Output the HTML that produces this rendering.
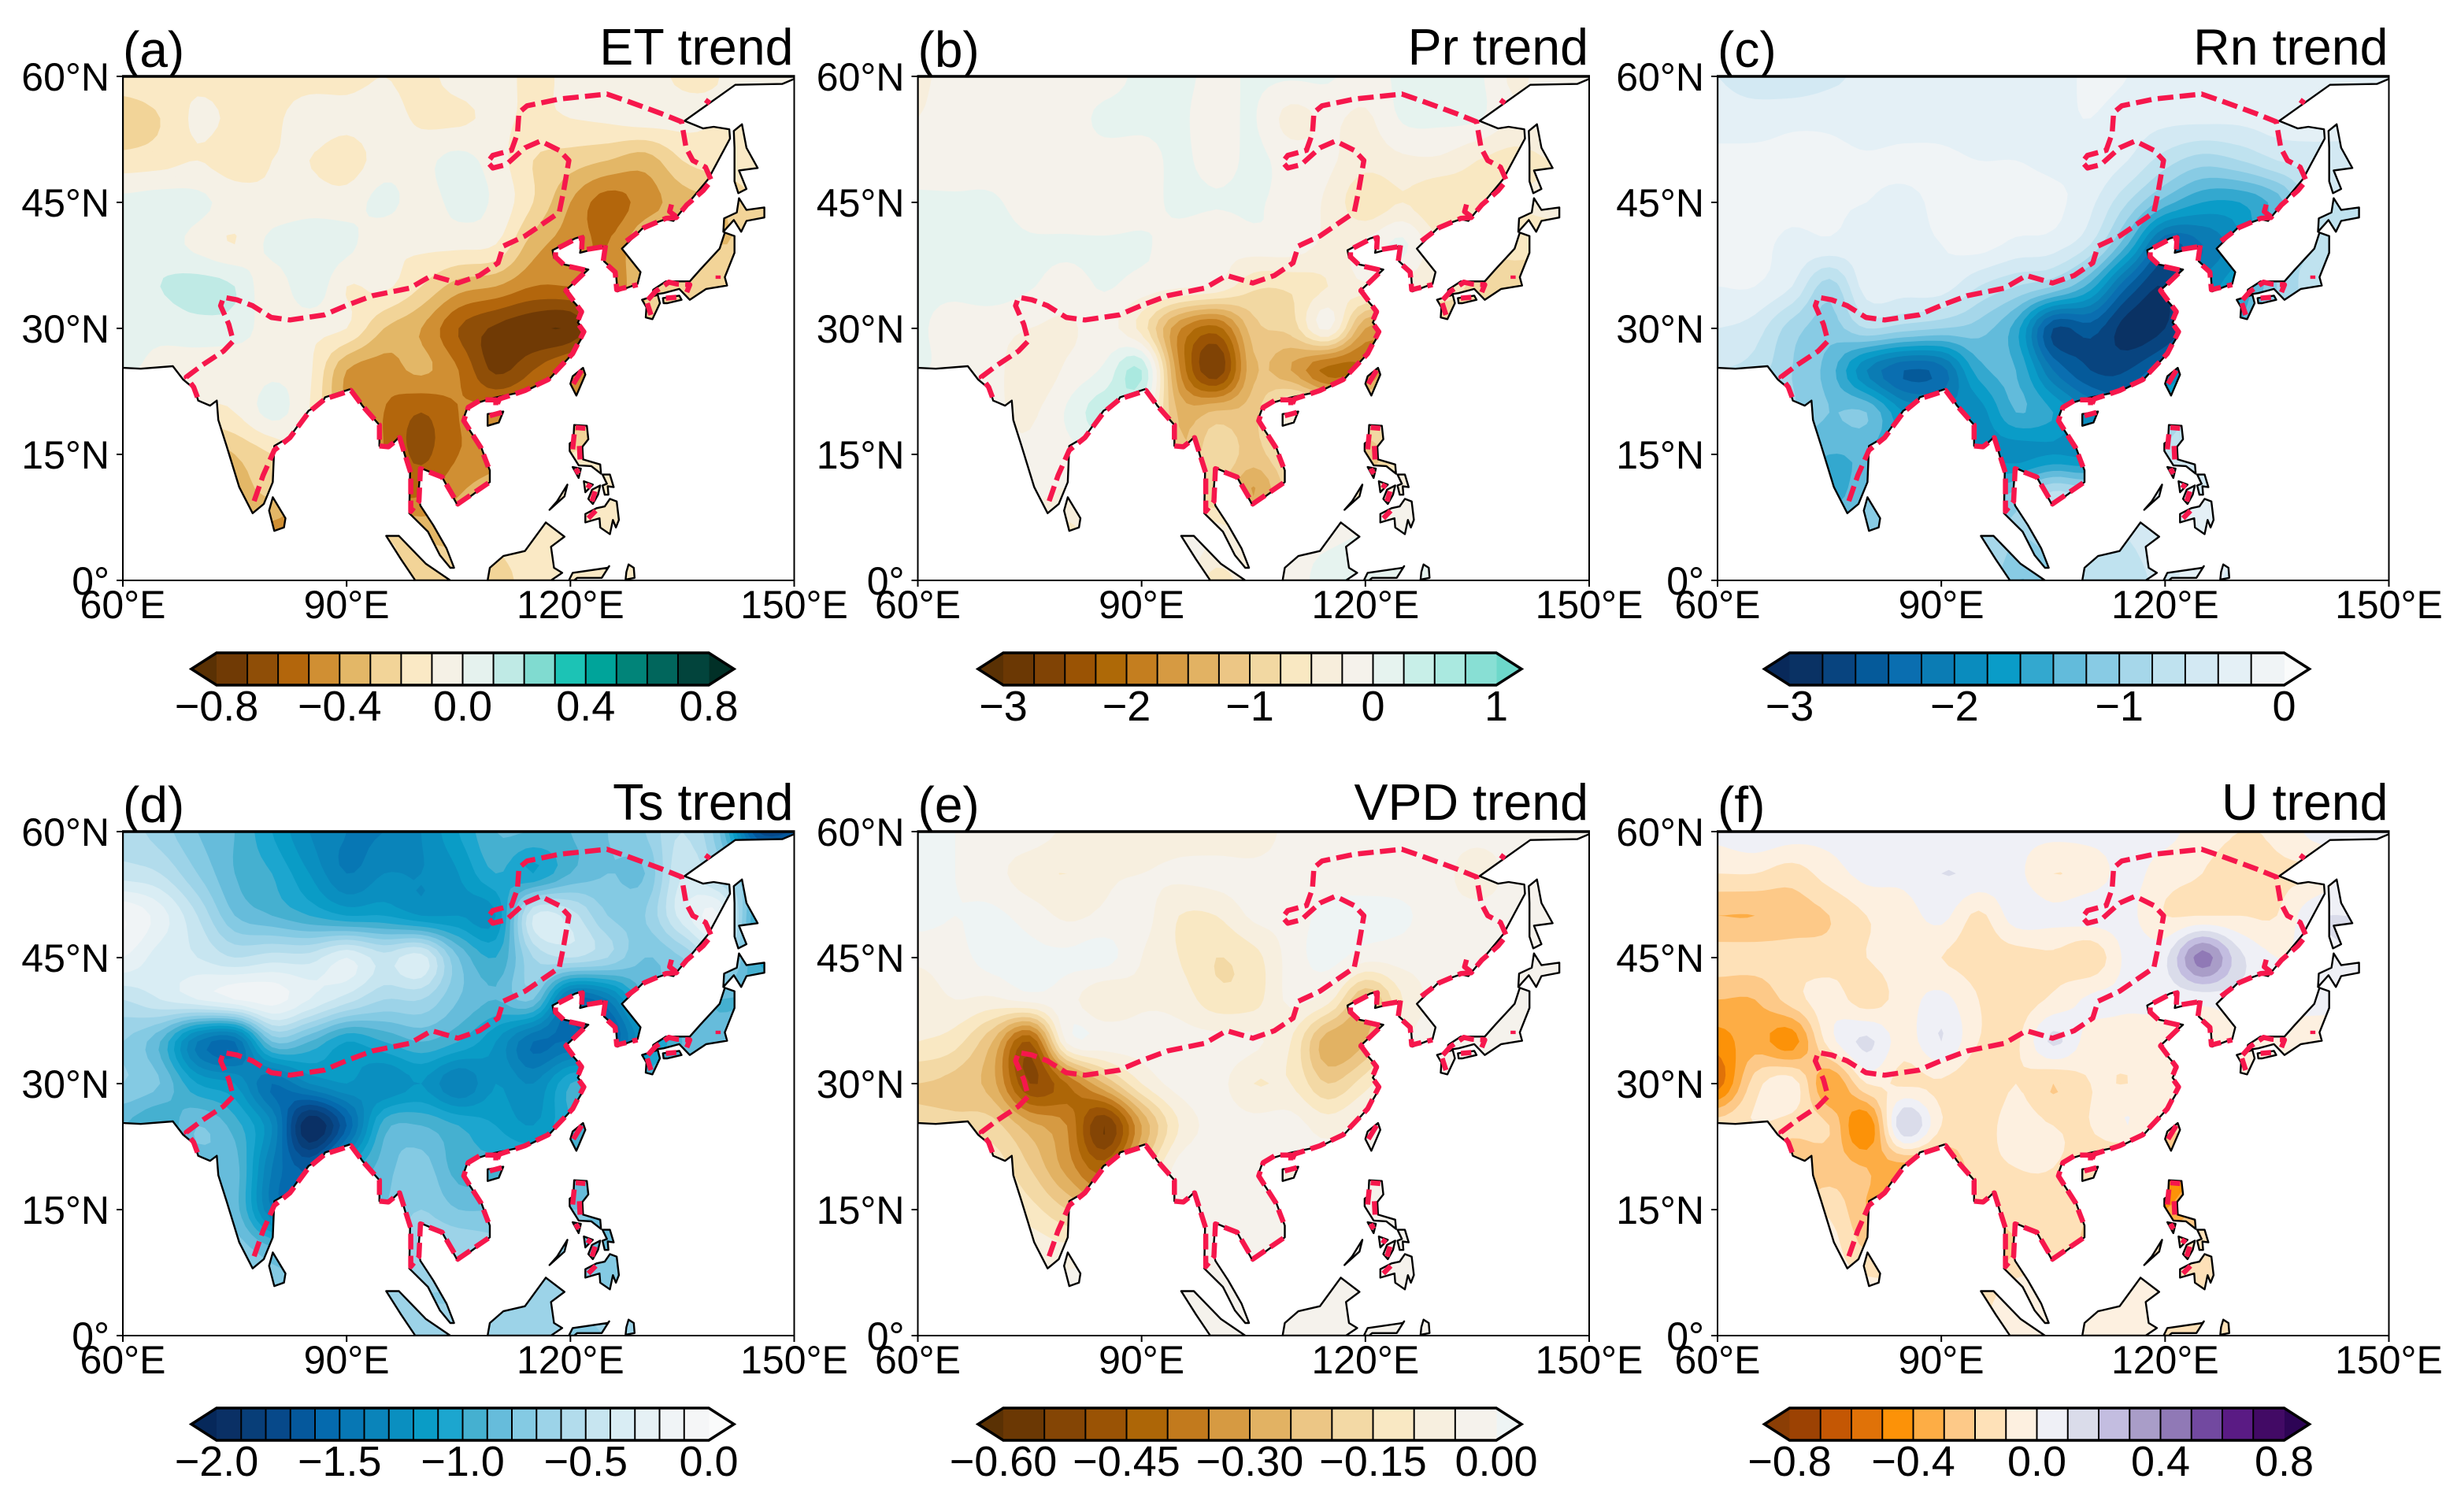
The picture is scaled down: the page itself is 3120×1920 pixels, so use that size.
<!DOCTYPE html>
<html lang="en">
<head>
<meta charset="utf-8">
<title>Trends over Asia</title>
<style>
html,body{margin:0;padding:0;background:#fff;}
svg{display:block;font-family:"Liberation Sans",Arial,sans-serif;}
</style>
</head>
<body>
<svg id="figure" xmlns="http://www.w3.org/2000/svg" width="3120" height="1920" viewBox="0 0 3120 1920">
<rect x="0" y="0" width="3120" height="1920" fill="#ffffff"/>
</svg>
<script>
// grid axes: values are sampled every 5 degrees
var gridLons = [60,65,70,75,80,85,90,95,100,105,110,115,120,125,130,135,140,145,150];
var gridLats = [60,55,50,45,40,35,30,25,20,15,10,5,0];
var lonTicks = [60,90,120,150];
var latTicks = [0,15,30,45,60];
var lonTickLabels = ["60°E","90°E","120°E","150°E"];
var latTickLabels = ["0°","15°N","30°N","45°N","60°N"];

var etValues = [
[-.12,-.1,-.12,-.14,-.14,-.14,-.13,-.1,-.13,-.06,-.05,-.13,-.07,-.05,-.05,-.12,-.1,-.1,-.1],
[-.28,-.2,-.08,-.12,-.12,-.05,-.07,-.05,-.12,-.12,-.08,-.12,-.1,-.08,-.05,-.07,-.1,-.1,-.1],
[-.16,-.14,-.1,-.15,-.1,-.1,-.15,-.05,-.03,.03,-.05,-.2,-.25,-.3,-.35,-.2,-.15,-.15,-.15],
[.03,.05,.03,-.05,-.08,-.05,-.05,.03,-.05,.03,-.02,-.2,-.4,-.55,-.45,-.35,-.3,-.2,-.2],
[.05,.05,-.03,-.1,.03,.08,.03,-.08,-.08,-.07,-.1,-.35,-.45,-.5,-.3,-.3,-.3,-.3,-.3],
[.04,.1,.14,.1,-.07,.08,-.1,-.08,-.2,-.35,-.4,-.5,-.5,-.5,-.3,-.25,-.25,-.25,-.25],
[.03,.03,.06,.05,-.05,-.07,-.1,-.3,-.4,-.6,-.72,-.78,-.78,-.5,-.3,-.3,-.3,-.3,-.3],
[.02,-.04,-.07,-.08,-.02,-.08,-.4,-.45,-.38,-.5,-.72,-.6,-.45,-.4,-.3,-.3,-.3,-.3,-.3],
[-.1,-.1,-.12,-.1,.03,-.1,-.4,-.5,-.6,-.5,-.45,-.42,-.4,-.3,-.3,-.3,-.3,-.3,-.3],
[-.3,-.35,-.4,-.3,-.2,-.1,-.3,-.5,-.62,-.5,-.45,-.4,-.2,-.15,-.15,-.15,-.15,-.15,-.15],
[-.4,-.4,-.4,-.35,-.3,-.4,-.45,-.5,-.5,-.4,-.3,-.2,-.15,-.12,-.12,-.12,-.12,-.12,-.12],
[-.4,-.4,-.4,-.4,-.45,-.45,-.3,-.2,-.3,-.3,-.2,-.15,-.12,-.12,-.12,-.12,-.12,-.12,-.12],
[-.4,-.4,-.4,-.4,-.4,-.3,-.25,-.2,-.25,-.3,-.25,-.15,-.12,-.12,-.12,-.12,-.12,-.12,-.12]
];
var prValues = [
[-.3,-.15,-.1,-.05,-.1,-.1,.05,.05,-.05,.03,.03,.03,-.1,.05,.05,.05,-.3,-.1,-.1],
[-.25,-.1,-.1,-.1,-.1,.05,.06,.04,-.1,.02,-.35,-.2,-.3,.03,.05,.03,-.25,-.1,-.1],
[-.1,-.1,-.1,-.15,-.1,-.1,-.1,.05,-.1,.05,-.1,-.2,-.4,-.3,-.3,-.5,-.6,-.5,-.5],
[.03,.03,.03,-.1,-.15,-.2,-.1,.05,.02,.03,-.1,-.3,-.7,-.5,-.75,-.6,-.5,-.4,-.4],
[.03,.05,.08,.03,.03,.04,.03,-.1,-.2,-.1,-.1,-.3,-.2,.05,-.5,-.7,-.7,-.7,-.7],
[.03,.05,.12,.02,-.1,.02,-.1,-.2,-.3,-.7,-.7,-.5,-.3,-.4,-.6,-.8,-.8,-.8,-.8],
[.03,-.1,-.15,-.25,-.3,-.15,-.6,-1.7,-2.1,-1.1,-.9,-.2,-1.5,-1.5,-1,-.8,-.8,-.8,-.8],
[.03,-.1,-.15,-.45,-.2,.05,.5,-1.7,-2.7,-1.3,-1.5,-2.1,-1.9,-1,-.8,-.8,-.8,-.8,-.8],
[-.2,-.2,-.2,-.3,.03,.4,.1,-1.3,-1.2,-1.1,-.3,-.5,-.6,-.6,-.6,-.6,-.6,-.6,-.6],
[-.2,-.2,-.2,-.2,-.1,.05,0,-1.2,-.8,-1.1,-.7,-.7,-1.2,-.6,-.5,-.5,-.5,-.5,-.5],
[-.2,-.2,-.2,-.2,-.3,-.2,-.2,-1,-.9,-1.5,-.8,-.5,-.5,-.3,-.2,-.2,-.2,-.2,-.2],
[-.5,-.5,-.5,-.5,-.6,-.3,-.2,-.1,-.3,-.3,-.2,-.1,.05,.05,.03,.03,.03,.03,.03],
[-.5,-.5,-.5,-.5,-.5,-.3,-.2,-.1,-.6,-.3,-.2,.2,.25,.1,.2,.1,.1,.1,.1]
];
var rnValues = [
[-.4,-.5,-.55,-.45,-.35,-.3,-.35,-.3,-.25,-.3,-.15,-.2,-.35,-.35,-.3,-.3,-.3,-.3,-.3],
[-.3,-.3,-.25,-.25,-.3,-.3,-.3,-.35,-.35,-.25,-.2,-.3,-.35,-.35,-.35,-.3,-.3,-.3,-.3],
[-.15,-.15,-.15,-.15,-.18,-.15,-.15,-.2,-.2,-.25,-.25,-.4,-.7,-.9,-.8,-.6,-.5,-.5,-.5],
[-.18,-.15,-.15,-.18,-.2,-.25,-.15,-.1,-.12,-.15,-.35,-.8,-1.3,-1.6,-1.6,-1.3,-.7,-.6,-.6],
[-.2,-.15,-.25,-.25,-.3,-.25,-.2,-.12,-.25,-.3,-.6,-1.4,-2.4,-2.2,-1.8,-1,-.8,-.7,-.7],
[-.2,-.2,-.4,-.9,-.3,-.3,-.3,-.6,-.8,-1,-1.5,-2.4,-2.8,-2,-1.6,-1,-.7,-.6,-.6],
[-.4,-.5,-.9,-1.1,-.8,-.9,-1,-1.1,-1.5,-2.6,-2.5,-2.9,-2.8,-2.2,-1.4,-1,-.8,-.7,-.7],
[-.6,-.7,-1,-1.3,-2,-2.4,-2.3,-1.5,-1.4,-2.2,-2.6,-2.6,-2.2,-1.8,-1.2,-1,-.8,-.8,-.8],
[-.9,-1,-1,-1.2,-1.2,-1.8,-1.9,-1.9,-1.4,-1.6,-2,-2.1,-1.2,-.8,-.8,-.8,-.8,-.8,-.8],
[-1.2,-1.3,-1.3,-1.4,-1.4,-1.6,-1.8,-1.8,-1.9,-1.8,-1.8,-1,-.7,-.5,-.5,-.5,-.5,-.5,-.5],
[-1.3,-1.4,-1.4,-1.5,-1.2,-1,-1.2,-1.3,-1.1,-.7,-.8,-.5,-.3,-.4,-.4,-.4,-.4,-.4,-.4],
[-1,-1,-1,-1,-1,-.9,-.9,-.8,-1,-.9,-.6,-.6,-.4,-.3,-.3,-.3,-.3,-.3,-.3],
[-.9,-.9,-.9,-.9,-.9,-.8,-.8,-.7,-1.2,-1,-.7,-.7,-.5,-.3,-.5,-.5,-.5,-.5,-.5]
];
var tsValues = [
[-.55,-.65,-.8,-.9,-1.1,-1.3,-1.4,-1.4,-1.3,-1.1,-.9,-.9,-.9,-.8,-.7,-.5,-.8,-1.7,-1.7],
[-.45,-.5,-.7,-.9,-1,-1.2,-1.4,-1.3,-1.3,-1.2,-1,-1.1,-.9,-.8,-.8,-.4,-.6,-.9,-1.2],
[-.1,-.25,-.5,-.8,-.9,-1,-1.1,-1.1,-1.2,-1.2,-1.2,-.4,-.45,-.7,-.7,-.35,-.2,-1,-1],
[-.2,-.35,-.4,-.5,-.45,-.45,-.3,-.45,-.35,-.8,-1,-.6,-.5,-.6,-.8,-.7,-.5,-1,-1],
[-.5,-.4,-.3,-.2,-.15,-.3,-.45,-.6,-.6,-.8,-.9,-.8,-1.5,-1.4,-.9,-.8,-.9,-.9,-.9],
[-.7,-.9,-1.4,-1.5,-.8,-.9,-1.1,-1,-.9,-1,-1.2,-1.5,-1.5,-1.6,-1.2,-.9,-.8,-.8,-.8],
[-.7,-.8,-1.1,-1.2,-1.5,-1.3,-1.2,-1.3,-1.2,-1.4,-1.2,-1.3,-1,-.9,-.9,-.8,-.8,-.8,-.8],
[-.9,-1,-.8,-.95,-1.3,-2,-1.6,-.95,-.9,-1,-1.1,-1.2,-1,-.9,-.8,-.8,-.8,-.8,-.8],
[-.85,-.85,-.85,-.85,-1.4,-1.6,-1.1,-.85,-.75,-.95,-.95,-.95,-.9,-.8,-.8,-.8,-.8,-.8,-.8],
[-.85,-.85,-.85,-.85,-1.4,-1.5,-.9,-.8,-.7,-.8,-.8,-.8,-.8,-.8,-.8,-.8,-.8,-.8,-.8],
[-.85,-.85,-.85,-.75,-.85,-.9,-.8,-.7,-.6,-.6,-.65,-.7,-.8,-.8,-.8,-.8,-.8,-.8,-.8],
[-.8,-.8,-.8,-.8,-.8,-.8,-.8,-.7,-.7,-.7,-.65,-.65,-.7,-.7,-.7,-.7,-.7,-.7,-.7],
[-.8,-.8,-.8,-.8,-.8,-.8,-.8,-.65,-.65,-.65,-.65,-.65,-.7,-.7,-.7,-.7,-.7,-.7,-.7]
];
var vpdValues = [
[0,0,-.02,-.02,-.06,-.07,-.08,-.08,-.09,-.09,-.03,-.03,-.03,-.03,-.03,-.03,-.03,-.03,-.03],
[.02,0,-.03,-.08,-.1,-.06,-.05,-.04,-.03,-.03,-.03,-.03,-.03,-.03,-.03,-.08,-.03,-.03,-.03],
[.02,0,.01,-.02,-.06,-.04,-.03,-.1,-.1,-.04,-.03,.02,.02,.01,-.03,-.03,-.03,-.03,-.03],
[-.04,-.02,.02,.01,.01,.02,-.05,-.1,-.15,-.12,-.03,.02,-.03,-.03,-.03,-.03,-.03,-.03,-.03],
[-.08,-.05,-.06,-.03,-.03,-.1,-.06,-.07,-.13,-.12,-.04,-.08,-.25,-.1,-.03,-.03,-.03,-.03,-.03],
[-.1,-.13,-.25,-.45,-.04,-.02,-.03,-.03,-.03,-.04,-.1,-.28,-.25,-.06,-.03,-.03,-.03,-.03,-.03],
[-.2,-.22,-.28,-.5,-.4,-.25,-.1,-.03,-.03,-.1,-.1,-.2,-.12,-.03,-.03,-.03,-.03,-.03,-.03],
[-.18,-.18,-.18,-.28,-.35,-.55,-.3,-.1,-.03,-.03,-.03,-.07,-.03,-.03,-.03,-.03,-.03,-.03,-.03],
[-.12,-.12,-.12,-.2,-.32,-.42,-.2,-.03,-.03,-.03,-.06,-.03,-.03,-.03,-.03,-.03,-.03,-.03,-.03],
[-.1,-.1,-.1,-.13,-.2,-.25,-.05,-.03,-.03,-.03,-.05,-.03,-.03,-.03,-.03,-.03,-.03,-.03,-.03],
[-.06,-.06,-.06,-.06,-.08,-.05,-.03,-.03,-.03,-.03,-.03,-.03,-.03,-.03,-.03,-.03,-.03,-.03,-.03],
[-.03,-.03,-.03,-.03,-.03,-.03,-.03,-.03,-.03,-.03,-.03,-.03,-.03,-.03,-.03,-.03,-.03,-.03,-.03],
[-.03,-.03,-.03,-.03,-.03,-.03,-.03,-.03,-.03,-.03,-.03,-.03,-.03,-.03,-.03,-.03,-.03,-.03,-.03]
];
var uValues = [
[.03,.08,.05,.03,.03,.03,.03,.03,.03,.03,.03,.03,.03,-.05,-.1,-.08,.03,.03,.03],
[-.1,-.1,-.15,-.05,.03,.03,.1,.08,.03,-.1,-.05,.03,-.05,-.1,-.15,-.12,-.1,.05,.05],
[-.3,-.3,-.25,-.2,-.1,-.05,.03,-.12,.05,.03,.05,.03,-.1,-.1,-.1,-.1,.08,.1,.1],
[-.15,-.15,-.15,-.15,-.1,-.05,-.1,-.15,-.15,-.12,-.18,.03,.08,.45,.13,0,.05,.1,.1],
[-.3,-.3,-.15,-.05,-.15,-.05,.03,-.1,-.15,-.08,.02,.02,.03,.03,.05,.03,.03,.03,.03],
[-.45,-.35,-.45,-.05,.12,-.05,.1,-.1,-.12,.12,-.05,-.05,-.05,-.05,-.05,-.05,-.05,-.05,-.05],
[-.55,-.15,-.05,-.4,-.1,-.12,-.12,-.2,-.1,-.2,-.1,-.1,-.05,-.05,-.05,-.05,-.05,-.05,-.05],
[-.15,-.1,-.15,-.2,-.5,.2,-.1,-.15,-.05,-.1,-.1,0,-.15,-.15,-.15,-.15,-.15,-.15,-.15],
[-.3,-.3,-.3,-.25,-.3,-.35,-.3,-.15,-.1,-.1,-.15,-.3,-.4,-.4,-.3,-.3,-.3,-.3,-.3],
[-.2,-.2,-.2,-.12,-.3,-.3,-.3,-.2,-.15,-.15,-.2,-.3,-.4,-.25,-.2,-.2,-.2,-.2,-.2],
[-.05,-.05,-.05,-.05,-.2,-.15,-.2,-.3,-.2,-.15,-.2,-.15,-.15,-.15,-.1,-.1,-.1,-.1,-.1],
[-.05,-.05,-.05,-.05,-.05,-.1,-.15,-.15,-.05,-.05,-.05,-.05,-.1,-.2,-.1,-.1,-.1,-.1,-.1],
[-.1,-.1,-.1,-.1,-.1,-.1,-.1,-.1,-.08,-.08,-.08,-.08,-.1,-.1,-.1,-.1,-.1,-.1,-.1]
];

var etColors = ["#703a05","#8f4e07","#b3660c","#d08f33","#e3b767","#f2d498","#fae9c5","#f5f1e6","#e5f2ee","#bfeae5","#80dbd0","#1cc3b5","#00a49a","#018479","#01665c","#02443c"];
var prColors = ["#6b3804","#804305","#9a5304","#ae6907","#c47e1f","#d69a42","#e2b263","#ecc685","#f2d8a2","#f9e8c2","#f7eedc","#f5f2eb","#e6f3ef","#c8efe8","#aae9e0","#88dfd4"];
var rnColors = ["#0a3264","#08447f","#055a9a","#0a6eb0","#0b7cb4","#0a8cbe","#0a9cc8","#33a8cf","#62bbdb","#88cbe4","#a6d7ea","#bfe2ef","#d3e9f3","#e4f0f6","#f0f4f6"];
var tsColors = ["#0a3065","#083e78","#07498a","#05589c","#056aae","#0777b4","#0a84ba","#0a8fc0","#0a9cc6","#1ca6cf","#45b0d0","#66bcdb","#84cae3","#9cd3e8","#b2dcec","#c7e5f0","#d9edf4","#e6f1f5","#f0f4f6","#f5f6f7"];
var vpdColors = ["#6b3804","#844505","#9a5305","#ad6607","#c27a1d","#d69a42","#e2b263","#ecc685","#f3d9a5","#f9e8c3","#f7efdf","#f5f2ec"];
var uColors = ["#9c4203","#c45704","#e07208","#fc9208","#fdad45","#fdc988","#fee1b8","#fdf0e0","#eff0f6","#dadcea","#c3bde0","#a99dc8","#9079b6","#7249a0","#5a1b84","#420a65"];

var etTicks = [-0.8,-0.4,0,0.4,0.8];
var prTicks = [-3,-2,-1,0,1];
var rnTicks = [-3,-2,-1,0];
var tsTicks = [-2,-1.5,-1,-0.5,0];
var vpdTicks = [-0.6,-0.45,-0.3,-0.15,0];
var uTicks = [-0.8,-0.4,0,0.4,0.8];
var etTickLabels = ["−0.8","−0.4","0.0","0.4","0.8"];
var prTickLabels = ["−3","−2","−1","0","1"];
var rnTickLabels = ["−3","−2","−1","0"];
var tsTickLabels = ["−2.0","−1.5","−1.0","−0.5","0.0"];
var vpdTickLabels = ["−0.60","−0.45","−0.30","−0.15","0.00"];
var uTickLabels = ["−0.8","−0.4","0.0","0.4","0.8"];

// coastlines, lon/lat
var mainland = [[60,60],[60,25.3],[62.4,25.2],[66.7,25.5],[68.1,23.9],[69.6,22.8],[70.1,21.4],[71.7,20.8],[72.6,21.4],[72.8,19.1],[73.9,16],[75.6,11.1],[77.4,8],[78.9,9.1],[80.1,11.7],[80.3,16],[82.4,17.1],[84.9,20.2],[86.7,21.1],[87.1,21.8],[90.6,22.8],[92.1,20.8],[94.4,18.5],[94.4,16],[95.6,15.8],[97.1,17.1],[98.5,12.8],[98.4,8],[100.9,5.8],[102.5,3],[103.9,1.5],[104.4,1.5],[103.4,3.8],[101.6,6.6],[99.9,8.9],[99.6,10],[99.9,13.4],[102.8,12.3],[104.9,8.9],[109.2,11.7],[109.2,13.1],[108.1,15.7],[105.6,19.1],[106.3,20.8],[109.6,21.7],[113.9,22.5],[117.1,23.9],[120.3,27],[122,29.6],[121,30.7],[121.7,31.9],[119.2,34.4],[122.4,37],[119.2,37.6],[117.8,38.4],[117.6,39.3],[120.6,40.7],[121.7,41],[121.3,39],[124.7,39.8],[124.5,38],[126.1,36.7],[126.3,34.4],[129,35.3],[129.4,36.7],[126.9,39.5],[129.9,42.1],[132.8,43],[133.8,42.8],[138.5,47.8],[141.4,52.6],[141.3,53.7],[139.2,54],[137.8,53.8],[135.3,54.7],[142.1,59],[148.4,59.1],[150,59.7],[150,60]];
var sakhalin = [[143,54.3],[143.6,51.5],[145.1,49.1],[142.6,48.8],[143.6,46.6],[142.5,46.1],[142,47.5],[142,51.5],[141.9,53.5]];
var hokkaido = [[142.6,45.5],[143.6,44.1],[146,44.4],[146,43.2],[143.6,42.8],[142.9,41.5],[141.9,42.9],[140.5,41.5],[140.6,43.1],[142.3,43.8]];
var honshu = [[140.7,41.4],[142,41],[142,39],[140.7,36.1],[141,35.1],[138.2,34.7],[136,33.4],[134.6,34.7],[132.5,34.2],[131,34],[131.1,34.6],[132.8,35.6],[136,35.6],[137.4,37],[140,39.5]];
var kyushu = [[129.6,33.4],[131.7,34],[132,33],[131,31.1],[130.1,31.3],[130.2,32.5]];
var shikoku = [[132.4,33.6],[134.6,33.9],[134.9,33.4],[133,33],[132.5,33]];
var taiwan = [[121.7,25.3],[122,24.5],[120.8,22],[120,23.4],[120.3,24.3]];
var hainan = [[108.9,19.8],[111,20.1],[110.4,18.8],[108.9,18.4]];
var sriLanka = [[80.1,9.9],[81.8,7.4],[81.6,6.3],[80.3,5.9],[79.6,8.3]];
var sumatra = [[95.3,5.3],[97,5.3],[100.6,2],[103.9,0],[99.2,0],[97.3,2.5]];
var borneo = [[108.9,0],[109.2,1.5],[111,2.9],[113.9,3.5],[116.7,6.9],[119.2,5.2],[117.4,4],[117.8,1.5],[118.9,.9],[117.4,0]];
var sulawesi = [[119.8,0],[120.3,.9],[125,1.5],[125.2,1.7],[124.2,.3],[120.9,.3],[120.5,0]];
var halmahera = [[127.8,1.9],[128.5,1.5],[128.6,.3],[127.4,.1],[127.5,1]];
var palawan = [[119.6,11.4],[119.2,10],[117.2,8.4],[118.2,9.4]];
var luzon = [[120.5,18.5],[122.2,18.4],[122.4,16.8],[121.6,15.9],[121.7,14.4],[124,13.8],[124.1,12.7],[122.8,13.6],[121.1,13.7],[119.9,15.4],[119.9,16.3],[120.4,16.6]];
var mindoro = [[120.3,13.5],[121.4,13.3],[121.1,12.2]];
var samar = [[124.3,12.6],[125.3,12.6],[125.8,11.1],[125,11.2],[125.1,10.2],[124.6,10.2],[124.3,11.3],[124.9,11.5]];
var panay = [[121.8,11.8],[123,11.4],[122,10.5]];
var negros = [[122.9,10.8],[124,11.3],[123.7,10.2],[123,9.1],[122.4,9.7]];
var mindanao = [[122,7.9],[123.5,8.6],[124.6,8.8],[125.3,9.7],[126.2,9.4],[126.5,7.2],[126.1,6.3],[125.7,7.2],[125.3,5.5],[124,6.3],[123.9,7.4],[122,6.9]];
var landShapes = [mainland,sakhalin,hokkaido,honshu,kyushu,shikoku,taiwan,hainan,sriLanka,sumatra,borneo,sulawesi,halmahera,palawan,luzon,mindoro,samar,panay,negros,mindanao];

// red dashed region boundary, lon/lat
var regionBoundary = [[70,21.8],[69.5,23],[68.5,24.2],[70.6,25.6],[73.5,27.3],[74.8,28.5],[74.2,30.5],[73.1,32.7],[73.5,33.7],[75.3,33.4],[77.4,32.7],[79.9,31.3],[82.4,31],[87,31.6],[89.9,32.7],[93.5,33.9],[98.5,34.8],[101.4,36.3],[104.9,35.4],[107.8,36.3],[110.3,37.8],[111,39.8],[113.9,41],[118.5,43.8],[119.1,46.4],[119.8,50],[118.5,51.2],[116,52.3],[113.9,51.5],[111.4,49.5],[109.6,49.1],[108.9,49.8],[109.6,50.6],[112.1,51.2],[112.9,53.2],[113.1,55.7],[114.2,56.5],[118.5,57.3],[124.9,57.9],[127.8,57],[132.1,55.6],[134.9,54.6],[135.5,51.5],[136.4,50],[138.1,49.2],[138.9,47.6],[137.8,46.4],[135.6,44.7],[134.2,43.2],[132.8,43.1],[129.9,42],[127.5,40.4]];
var boundaryKorea = [[124.7,39.9],[124.4,38],[126,36.7],[126.2,34.6],[129,35.2]];
var boundaryChinaCoast = [[124.3,39.7],[121.5,39.3],[121.6,40.8],[120.4,40.5],[118,39.4],[118,38.5],[119.2,37.5],[122.2,36.9],[119.4,34.5],[121.5,32],[120.9,30.7],[121.8,29.6],[120.3,27],[117,23.9],[113.9,22.6],[110.5,21.6],[110,20.6],[110,21.5],[108,21.5],[106.3,20.6],[105.7,19],[108,15.8],[109,13.5]];
var regionBoundarySouth = [[109,11.6],[104.9,9.1],[102.8,12.3],[99.9,13.3],[99.7,9.4],[98.6,8.2],[98.6,12.8],[97.1,17],[95.6,15.9],[94.4,16],[94.4,18.5],[92.1,20.8],[90.6,22.6],[87.1,21.6],[84.9,20],[82.4,17],[80.3,15.5],[78.8,12.5],[77.5,9.2]];
var boundaryHook = [[134.2,43.3],[133.3,43.9],[133.6,44.9]];
var boundaryJapan = [[130.4,33.4],[131.4,34.4],[133.2,35.5],[134.2,35.3],[136,35.2],[135.6,34.3]];
var boundaryKyushu = [[130.3,33],[130.8,31.6]];
var boundaryShikoku = [[132.8,33.6],[134.2,33.7]];
var boundaryJapanDot = [[139.8,36.3],[139.8,35.9]];
var boundaryOkhotsk = [[138.1,57.2],[138.7,56.8]];
var boundaryTaiwan = [[121.5,25],[120.4,23.4]];
var boundaryHainan = [[110.8,20],[109.2,19.6]];
var boundaryLuzonA = [[120.7,18.2],[122,18.1]];
var boundaryLuzonB = [[120.5,17.4],[120.3,15.6]];
var boundaryLuzonC = [[121.2,16],[121.3,14.4]];
var boundaryMindoro = [[120.7,13.3],[121.1,12.7]];
var boundaryPanay = [[122.2,11.4],[122.8,11.1]];
var boundaryNegros = [[123.3,10.6],[122.9,9.4]];
var boundaryMindanao = [[122.4,7.4],[123.4,8.3]];
var boundaryPieces = [regionBoundary,boundaryKorea,boundaryChinaCoast,regionBoundarySouth,boundaryHook,boundaryJapan,boundaryKyushu,boundaryShikoku,boundaryJapanDot,boundaryOkhotsk,boundaryTaiwan,boundaryHainan,boundaryLuzonA,boundaryLuzonB,boundaryLuzonC,boundaryMindoro,boundaryPanay,boundaryNegros,boundaryMindanao];

var SVGNS = "http://www.w3.org/2000/svg";
var MAP_W = 852.5, MAP_H = 640, SUB = 5;
function make(tag, attrs, parent){
  var n = document.createElementNS(SVGNS, tag);
  for (var k in attrs) n.setAttribute(k, attrs[k]);
  if (parent) parent.appendChild(n);
  return n;
}
function xScale(lon){ return (lon-60)/90*MAP_W; }
function yScale(lat){ return (60-lat)/60*MAP_H; }
function cr(p0,p1,p2,p3,t){
  return 0.5*((2*p1)+(p2-p0)*t+(2*p0-5*p1+4*p2-p3)*t*t+(3*p1-p0-3*p2+p3)*t*t*t);
}
function resample(line){
  var out=[], n=line.length;
  for (var i=0;i<n-1;i++){
    for (var s=0;s<SUB;s++){
      out.push(cr(line[Math.max(i-1,0)],line[i],line[i+1],line[Math.min(i+2,n-1)],s/SUB));
    }
  }
  out.push(line[n-1]);
  return out;
}
function smoothGrid(values){
  var rows = values.map(resample), cols = [], c, r;
  for (c=0;c<rows[0].length;c++){
    var col=[];
    for (r=0;r<rows.length;r++) col.push(rows[r][c]);
    cols.push(resample(col));
  }
  var out=[];
  for (r=0;r<cols[0].length;r++){
    var row=[];
    for (c=0;c<cols.length;c++) row.push(cols[c][r]);
    out.push(row);
  }
  return out;
}
function bandPath(g, level){
  var d=[], nr=g.length, nc=g[0].length;
  var dl=(gridLons[1]-gridLons[0])/SUB, dp=(gridLats[0]-gridLats[1])/SUB;
  function X(c){ return xScale(gridLons[0]+c*dl); }
  function Y(r){ return yScale(gridLats[0]-r*dp); }
  for (var r=0;r<nr-1;r++){
    var run=-1;
    for (var c=0;c<nc;c++){
      var full = c<nc-1 && g[r][c]>=level && g[r][c+1]>=level && g[r+1][c]>=level && g[r+1][c+1]>=level;
      if (full){ if(run<0) run=c; continue; }
      if (run>=0){
        d.push("M"+X(run).toFixed(1)+" "+Y(r).toFixed(1)+"H"+X(c).toFixed(1)+"V"+Y(r+1).toFixed(1)+"H"+X(run).toFixed(1)+"Z");
        run=-1;
      }
      if (c>=nc-1) continue;
      var cs=[[c,r,g[r][c]],[c+1,r,g[r][c+1]],[c+1,r+1,g[r+1][c+1]],[c,r+1,g[r+1][c]]], pts=[];
      for (var i=0;i<4;i++){
        var a=cs[i], b=cs[(i+1)%4];
        if (a[2]>=level) pts.push([a[0],a[1]]);
        if ((a[2]>=level)!==(b[2]>=level)){
          var t=(level-a[2])/(b[2]-a[2]);
          pts.push([a[0]+(b[0]-a[0])*t,a[1]+(b[1]-a[1])*t]);
        }
      }
      if (pts.length>2){
        d.push("M"+pts.map(function(p){return X(p[0]).toFixed(1)+" "+Y(p[1]).toFixed(1);}).join("L")+"Z");
      }
    }
  }
  return d.join("");
}
function linePath(pts, closed){
  return "M"+pts.map(function(p){return xScale(p[0]).toFixed(1)+" "+yScale(p[1]).toFixed(1);}).join("L")+(closed?"Z":"");
}
var svg = document.getElementById("figure");
var landD = landShapes.map(function(s){return linePath(s,true);}).join("");
var defs = make("defs",{},svg);
var landClip = make("clipPath",{id:"land-clip"},defs);
make("path",{d:landD},landClip);
var axesClip = make("clipPath",{id:"axes-clip"},defs);
make("rect",{x:0,y:0,width:MAP_W,height:MAP_H},axesClip);

function drawPanel(p){
  var g = make("g",{transform:"translate("+p.x+","+p.y+")"},svg);
  
  

  var field = make("g",{"clip-path":"url(#land-clip)"},g);
  
  
  var base = make("rect",{x:0,y:0,width:MAP_W,height:MAP_H,fill:p.tipLow},field);
  
  
  var grid = smoothGrid(p.values);
  var n = p.colors.length, i;
  for (i=0;i<=n;i++){
    var level = p.min + (p.max-p.min)*i/n;
    var band = make("path",{d:bandPath(grid,level),fill:i<n?p.colors[i]:p.tipHigh},field);
    
    
  }

  var overlay = make("g",{"clip-path":"url(#axes-clip)"},g);
  
  
  var coast = make("path",{d:landD,fill:"none",stroke:"#000","stroke-width":2.4,"stroke-linejoin":"round"},overlay);
  
  
  boundaryPieces.forEach(function(piece){
    var red = make("path",{d:linePath(piece,false),fill:"none",stroke:"#f6174c","stroke-width":6.5,"stroke-dasharray":"20 8","stroke-linejoin":"round"},overlay);
    
    
  });

  var spine = make("rect",{x:0,y:0,width:MAP_W,height:MAP_H,fill:"none",stroke:"#000","stroke-width":2},g);
  
  
  var topSpine = make("line",{x1:-1,x2:MAP_W+1,y1:0,y2:0,stroke:"#000","stroke-width":3.5},g);
  
  

  lonTicks.forEach(function(v,k){
    var x = xScale(v);
    var t = make("line",{x1:x,x2:x,y1:MAP_H,y2:MAP_H+8,stroke:"#000","stroke-width":2},g);
    
    
    var lab = make("text",{x:x,y:MAP_H+48,"text-anchor":"middle","font-size":50,fill:"#000"},g);
    lab.textContent = lonTickLabels[k];
    
    
  });
  latTicks.forEach(function(v,k){
    var y = yScale(v);
    var t = make("line",{x1:-8,x2:0,y1:y,y2:y,stroke:"#000","stroke-width":2},g);
    
    
    var lab = make("text",{x:-17,y:y+18,"text-anchor":"end","font-size":50,fill:"#000"},g);
    lab.textContent = latTickLabels[k];
    
    
  });

  var tag = make("text",{x:0,y:-12,"font-size":64,fill:"#000"},g);
  tag.textContent = p.tag;
  
  
  var title = make("text",{x:MAP_W-1,y:-15,"text-anchor":"end","font-size":64.5,fill:"#000"},g);
  title.textContent = p.title;
  
  

  // colour bar
  var cb = make("g",{transform:"translate("+p.barX+","+(p.y+732)+")"},svg);
  
  
  var W = p.barW, H = 41, TIP = 32;
  function barX(v){ return (v-p.min)/(p.max-p.min)*W; }
  var lowTip = make("polygon",{points:"0,0 0,"+H+" "+(-TIP)+","+(H/2),fill:p.tipLow},cb);
  
  
  var highTip = make("polygon",{points:W+",0 "+W+","+H+" "+(W+TIP)+","+(H/2),fill:p.tipHigh},cb);
  
  
  for (i=0;i<n;i++){
    var x0 = W*i/n, x1 = W*(i+1)/n;
    var seg = make("rect",{x:x0,y:0,width:x1-x0+.5,height:H,fill:p.colors[i]},cb);
    
    
  }
  for (i=1;i<n;i++){
    var sep = make("line",{x1:W*i/n,x2:W*i/n,y1:0,y2:H,stroke:"#000","stroke-width":2},cb);
    
    
  }
  var outline = make("polygon",{points:"0,0 "+W+",0 "+(W+TIP)+","+(H/2)+" "+W+","+H+" 0,"+H+" "+(-TIP)+","+(H/2),fill:"none",stroke:"#000","stroke-width":3.5},cb);
  
  
  p.ticks.forEach(function(v,k){
    var lab = make("text",{x:barX(v),y:H+45,"text-anchor":"middle","font-size":54,fill:"#000"},cb);
    lab.textContent = p.tickLabels[k];
    
    
  });
}

drawPanel({key:"et",tag:"(a)",title:"ET trend",x:156,y:97,values:etValues,colors:etColors,min:-0.8,max:0.8,tipLow:"#5a3104",tipHigh:"#013027",barX:275,barW:625,ticks:etTicks,tickLabels:etTickLabels});
drawPanel({key:"pr",tag:"(b)",title:"Pr trend",x:1165.5,y:97,values:prValues,colors:prColors,min:-3,max:1,tipLow:"#5a3104",tipHigh:"#6dd8ca",barX:1274,barW:626,ticks:prTicks,tickLabels:prTickLabels});
drawPanel({key:"rn",tag:"(c)",title:"Rn trend",x:2181,y:97,values:rnValues,colors:rnColors,min:-3,max:0,tipLow:"#08295a",tipHigh:"#fafbfb",barX:2272.5,barW:628,ticks:rnTicks,tickLabels:rnTickLabels});
drawPanel({key:"ts",tag:"(d)",title:"Ts trend",x:156,y:1056,values:tsValues,colors:tsColors,min:-2,max:0,tipLow:"#06285a",tipHigh:"#fafbfb",barX:275,barW:625,ticks:tsTicks,tickLabels:tsTickLabels});
drawPanel({key:"vpd",tag:"(e)",title:"VPD trend",x:1165.5,y:1056,values:vpdValues,colors:vpdColors,min:-0.6,max:0,tipLow:"#5a3104",tipHigh:"#eef4f4",barX:1274,barW:626,ticks:vpdTicks,tickLabels:vpdTickLabels});
drawPanel({key:"u",tag:"(f)",title:"U trend",x:2181,y:1056,values:uValues,colors:uColors,min:-0.8,max:0.8,tipLow:"#8b3e05",tipHigh:"#2d0455",barX:2272.5,barW:628,ticks:uTicks,tickLabels:uTickLabels});
</script>
</body>
</html>
